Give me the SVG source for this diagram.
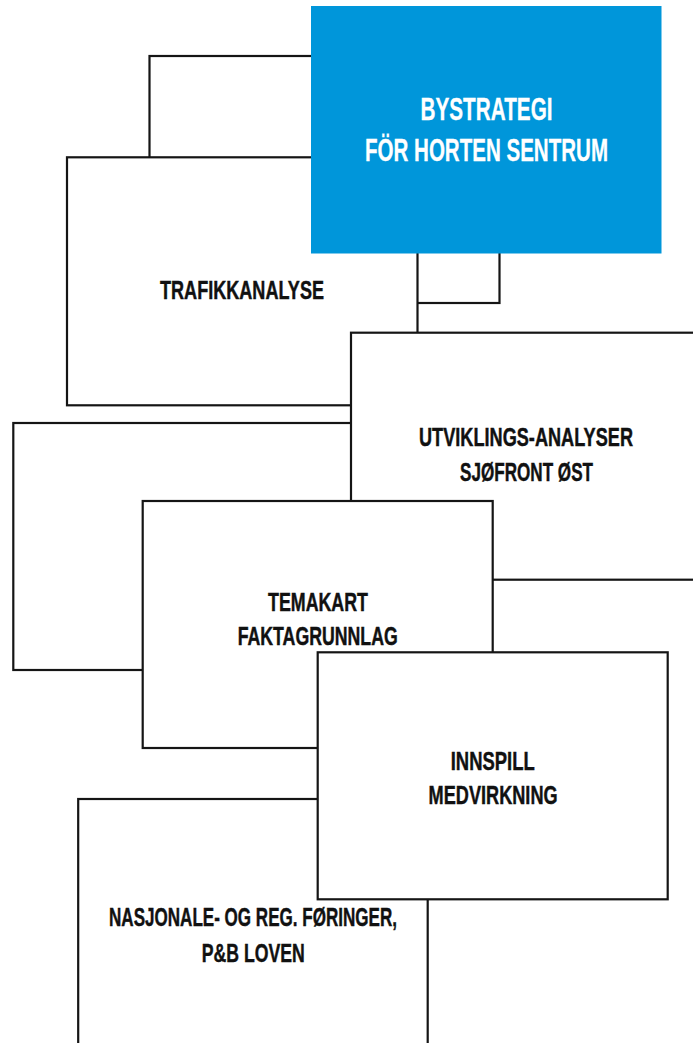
<svg xmlns="http://www.w3.org/2000/svg" width="693" height="1043" viewBox="0 0 693 1043">
<style>
.box{fill:#fff;stroke:#151515;stroke-width:2.2}
.blue{fill:#0096da}
.t{font-family:"Liberation Sans",Arial,sans-serif;font-weight:700;font-size:20px;fill:#111;stroke:#111;stroke-width:0.35;text-anchor:middle}
.tw{font-family:"Liberation Sans",Arial,sans-serif;font-weight:700;font-size:24px;fill:#fff;stroke:#fff;stroke-width:0.25;text-anchor:middle}
</style>
<rect width="693" height="1043" fill="#fff"/>
<g id="connectors"/>
<g id="back-top"><rect class="box" x="149.5" y="56" width="350" height="247"/></g>
<g id="trafikkanalyse"><rect class="box" x="67" y="157.3" width="350.5" height="248"/>
<g transform="translate(242 299) scale(1 1.3)"><text class="t" x="0" y="0" textLength="164" lengthAdjust="spacingAndGlyphs">TRAFIKKANALYSE</text></g></g>
<g id="bystrategi"><rect class="blue" x="311" y="6" width="350.5" height="247.5"/>
<g transform="translate(486.5 120) scale(1 1.3)"><text class="tw" x="0" y="0" textLength="132" lengthAdjust="spacingAndGlyphs">BYSTRATEGI</text></g>
<g transform="translate(486.5 161) scale(1 1.3)"><text class="tw" x="0" y="0" textLength="243" lengthAdjust="spacingAndGlyphs">FÖR HORTEN SENTRUM</text></g></g>
<g id="back-left"><rect class="box" x="13.3" y="423" width="350" height="247"/></g>
<g id="utviklings"><rect class="box" x="351" y="332.7" width="350" height="247"/>
<g transform="translate(526 446) scale(1 1.3)"><text class="t" x="0" y="0" textLength="214" lengthAdjust="spacingAndGlyphs">UTVIKLINGS-ANALYSER</text></g>
<g transform="translate(526.5 481) scale(1 1.3)"><text class="t" x="0" y="0" textLength="133" lengthAdjust="spacingAndGlyphs">SJØFRONT ØST</text></g></g>
<g id="temakart"><rect class="box" x="142.7" y="501" width="350" height="247"/>
<g transform="translate(318 611) scale(1 1.3)"><text class="t" x="0" y="0" textLength="100" lengthAdjust="spacingAndGlyphs">TEMAKART</text></g>
<g transform="translate(317.7 645) scale(1 1.3)"><text class="t" x="0" y="0" textLength="160" lengthAdjust="spacingAndGlyphs">FAKTAGRUNNLAG</text></g></g>
<g id="nasjonale"><rect class="box" x="78.2" y="799" width="349.5" height="260"/>
<g transform="translate(253 926) scale(1 1.3)"><text class="t" x="0" y="0" textLength="288" lengthAdjust="spacingAndGlyphs">NASJONALE- OG REG. FØRINGER,</text></g>
<g transform="translate(253.3 962) scale(1 1.3)"><text class="t" x="0" y="0" textLength="103" lengthAdjust="spacingAndGlyphs">P&amp;B LOVEN</text></g></g>
<g id="innspill"><rect class="box" x="317.7" y="652.3" width="350" height="247"/>
<g transform="translate(492.7 770) scale(1 1.3)"><text class="t" x="0" y="0" textLength="84" lengthAdjust="spacingAndGlyphs">INNSPILL</text></g>
<g transform="translate(493.1 804) scale(1 1.3)"><text class="t" x="0" y="0" textLength="129" lengthAdjust="spacingAndGlyphs">MEDVIRKNING</text></g></g>
</svg>
